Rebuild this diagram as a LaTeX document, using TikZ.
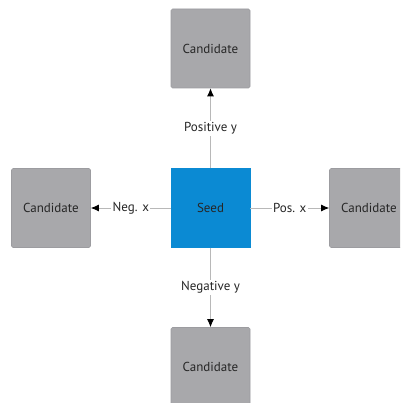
\documentclass[tikz,border=0pt]{standalone}
\usepackage{fontspec}
\setmainfont{PT Sans}
\usetikzlibrary{arrows.meta}
\definecolor{candfill}{HTML}{A8A8AB}
\definecolor{candline}{HTML}{9C9CA0}
\definecolor{seedfill}{HTML}{0B8AD3}
\definecolor{txt}{HTML}{262626}
\definecolor{conn}{HTML}{B8B8B8}
\tikzset{
  box/.style={minimum width=79pt, minimum height=79pt, inner sep=0pt, text=txt,
    font=\fontsize{13}{14}\selectfont},
  cand/.style={box, fill=candfill, draw=candline, line width=0.6pt, rounded corners=1.5pt},
  seedbox/.style={box, fill=seedfill, draw=seedfill},
  conn/.style={draw=conn, line width=0.9pt, -{Latex[length=8pt,width=7pt,color=black]}},
  lbl/.style={fill=white, text=txt, inner sep=1.5pt, font=\fontsize{13}{14}\selectfont}
}
\begin{document}
\begin{tikzpicture}[x=1pt,y=-1pt]
\clip (0,0) rectangle (400,403);
\fill[white] (0,0) rectangle (400,403);
\node[seedbox] (seed) at (210.5,208) {Seed};
\node[cand] (top) at (210.5,48.5) {Candidate};
\node[cand] (left) at (51,208) {Candidate};
\node[cand] (right) at (369,208) {Candidate};
\node[cand] (bottom) at (210.5,367) {Candidate};
\draw[conn] (seed) -- node[lbl] {Positive y} (top);
\draw[conn] (seed) -- node[lbl] {Neg. x} (left);
\draw[conn] (seed) -- node[lbl] {Pos. x} (right);
\draw[conn] (seed) -- node[lbl] {Negative y} (bottom);
\end{tikzpicture}
\end{document}
